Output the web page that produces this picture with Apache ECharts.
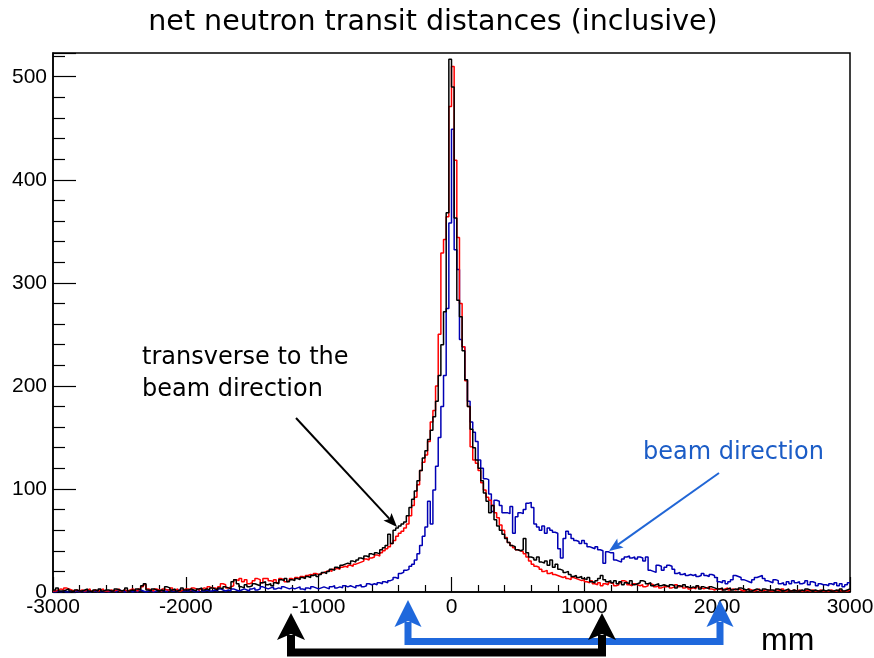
<!DOCTYPE html>
<html><head><meta charset="utf-8">
<script src="https://cdn.jsdelivr.net/npm/echarts@6/dist/echarts.min.js"></script>
<style>html,body{margin:0;padding:0;background:#fff}#c{width:874px;height:658px}</style>
</head><body><div id="c"></div>
<script>
// histogram binning (mm)
const BIN_START = -3000;
const BIN_WIDTH = 20;

// transverse direction (black)
const transverseBlack = [
2,4,1,1,2,3,1,0,2,1, 1,2,3,1,0,2,1,3,1,2, 2,1,1,3,2,1,2,4,1,2, 1,3,2,6,8,2,1,3,2,1,
2,1,5,4,2,3,1,2,4,2, 2,3,2,1,3,4,2,3,2,4, 3,2,4,3,5,4,3,10,12,8, 5,4,7,5,6,8,7,6,9,10,
7,8,6,9,8,12,11,13,10,12, 11,13,12,14,13,15,14,16,17,15, 17,19,18,20,22,21,24,23,26,27,
28,27,30,29,31,33,32,35,34,37, 36,38,37,41,43,45,56,47,60,62, 64,66,68,74,82,90,98,108,118,130,
137,148,157,170,185,210,240,272,368,517, 490,363,283,267,234,206,180,158,140,128,
120,108,96,88,77,84,70,64,60,56, 52,48,45,44,41,40,41,52,38,34, 33,31,34,29,28,30,26,31,24,27,
22,21,19,20,17,15,16,14,15,13, 12,14,10,9,11,13,16,12,10,11, 9,11,8,10,7,9,8,11,7,8,
9,11,10,8,9,6,7,8,6,7, 6,5,7,6,4,6,5,7,5,4, 5,4,6,3,5,4,3,5,4,3, 3,4,2,3,4,2,3,2,4,3,
2,3,1,2,3,2,1,3,2,2, 2,1,3,2,1,2,3,1,2,1, 1,2,1,3,2,1,2,1,1,2, 1,2,1,1,2,1,3,1,2,3
];
// transverse direction (red)
const transverseRed = [
1,2,3,2,4,3,2,1,2,1, 2,1,2,3,1,2,1,2,3,1, 1,2,1,2,3,1,2,1,2,3, 2,1,3,5,7,3,2,1,3,2,
1,3,2,2,4,2,3,1,2,3, 3,2,4,3,2,3,4,3,5,4, 4,3,5,8,7,4,5,6,12,11, 13,10,12,8,9,11,13,12,9,13,
13,11,10,12,9,13,12,10,11,13, 12,14,13,15,14,16,17,16,18,17, 18,19,20,21,20,22,23,22,24,25,
24,26,25,27,28,29,30,32,31,33, 34,36,35,38,40,42,44,47,50,54, 57,59,62,66,74,84,92,104,118,126,
133,146,165,176,200,250,329,342,364,471, 510,419,344,280,238,205,180,141,128,125,
118,106,99,92,89,84,77,72,65,60, 53,48,45,43,41,40,39,37,34,30, 27,25,24,22,20,21,18,19,17,16,
15,14,15,13,12,14,13,12,11,12, 10,9,11,8,7,9,6,8,7,9, 8,6,7,9,11,10,7,6,8,7,
6,7,5,6,8,7,5,6,4,5, 5,6,4,5,7,5,6,4,5,3, 4,3,5,4,3,4,5,3,2,3, 3,2,3,4,2,3,2,3,2,1,
2,3,2,1,2,3,1,2,2,1, 1,2,2,1,3,1,2,1,2,1, 2,1,1,2,1,2,1,1,2,1, 1,1,2,1,1,2,1,1,1,2
];
// beam direction (blue)
const beamBlue = [
0,1,0,1,0,0,1,0,1,0, 1,0,1,0,1,1,0,2,0,1, 0,1,1,0,2,1,0,1,1,0, 1,0,2,1,0,1,1,0,1,2,
1,1,0,2,1,1,0,2,1,1, 1,2,1,0,1,3,1,2,1,1, 2,1,3,2,1,2,1,3,2,1, 2,3,2,1,3,4,2,3,5,4,
3,4,5,3,4,3,5,4,3,4, 3,4,5,3,2,4,3,5,4,3, 4,5,4,3,5,6,4,5,4,6,
5,6,5,4,6,7,5,6,8,7, 8,7,9,8,10,9,11,12,14,13, 18,19,21,22,25,27,31,37,45,54,
63,88,66,99,122,150,180,210,275,358, 449,332,313,245,238,206,185,165,155,146,
128,120,110,109,95,78,89,88,84,77, 77,76,83,57,73,77,76,80,86,87, 82,66,63,60,64,57,62,60,58,57,
42,33,52,59,56,52,50,49,47,50, 47,44,43,42,44,41,40,28,39,38, 38,31,30,29,32,34,35,33,34,32,
34,33,30,34,21,20,19,26,25,21, 24,26,25,22,18,19,17,18,16,17, 16,17,15,16,18,16,15,17,16,14,
10,9,11,8,10,12,16,15,14,12, 11,10,9,12,14,15,16,13,11,10, 9,12,11,8,9,7,10,8,11,9,
10,8,9,11,7,10,9,6,8,7, 7,6,8,7,9,6,8,5,7,9
];

const X_MIN = -3000, X_MAX = 3000, X_STEP = 1000;
const Y_MIN = 0, Y_MAX = 523, Y_STEP = 100;

function toSteps(vals) {
  const pts = vals.map((v, i) => [BIN_START + i * BIN_WIDTH, v]);
  pts.push([BIN_START + vals.length * BIN_WIDTH, vals[vals.length - 1]]);
  return pts;
}

function arrow(x1, y1, x2, y2, L, W, notch, color, lw) {
  const dx = x2 - x1, dy = y2 - y1, len = Math.hypot(dx, dy);
  const ux = dx / len, uy = dy / len, px = -uy, py = ux;
  const bx = x2 - ux * L, by = y2 - uy * L;
  const nx = x2 - ux * (L - notch), ny = y2 - uy * (L - notch);
  return [
    { type: 'line', shape: { x1: x1, y1: y1, x2: nx, y2: ny }, style: { stroke: color, lineWidth: lw }, z: 100 },
    { type: 'polygon', shape: { points: [[x2, y2], [bx + px * W / 2, by + py * W / 2], [nx, ny], [bx - px * W / 2, by - py * W / 2]] }, style: { fill: color }, z: 100 }
  ];
}

const chart = echarts.init(document.getElementById('c'), null, { renderer: 'canvas' });
const lineW = 1.5;
const blueBr = '#1f68dc';
const graphics = [
  { type: 'text', x: 433, y: 23, style: { text: 'net neutron transit distances (inclusive)', font: '28.5px "DejaVu Sans"', fill: '#000', align: 'center', verticalAlign: 'middle' }, z: 100 },
  { type: 'text', x: 142, y: 358, style: { text: 'transverse to the', font: '24px "DejaVu Sans"', fill: '#000', align: 'left', verticalAlign: 'middle' }, z: 100 },
  { type: 'text', x: 142, y: 390, style: { text: 'beam direction', font: '24px "DejaVu Sans"', fill: '#000', align: 'left', verticalAlign: 'middle' }, z: 100 },
  { type: 'text', x: 643, y: 453, style: { text: 'beam direction', font: '24px "DejaVu Sans"', fill: '#1b5cc6', align: 'left', verticalAlign: 'middle' }, z: 100 },
  { type: 'text', x: 761, y: 641, style: { text: 'mm', font: '32px "Liberation Sans"', fill: '#000', align: 'left', verticalAlign: 'middle' }, z: 100 },
  { type: 'polyline', shape: { points: [[408, 622], [408, 641.5], [720, 641.5], [720, 622]] }, style: { stroke: blueBr, lineWidth: 7, fill: null, lineJoin: 'miter' }, z: 100 },
  { type: 'polyline', shape: { points: [[291, 635], [291, 652.5], [602, 652.5], [602, 635]] }, style: { stroke: '#000', lineWidth: 8, fill: null, lineJoin: 'miter' }, z: 101 }
];
graphics.push(...arrow(296, 418, 397, 527, 14, 11, 3, '#000', 2));
graphics.push(...arrow(719, 473, 609, 551, 14, 11, 3, '#2166d6', 2));
graphics.push(...arrow(408, 640, 408, 600, 27, 27, 6, blueBr, 0).slice(1));
graphics.push(...arrow(720, 640, 720, 600, 27, 27, 6, blueBr, 0).slice(1));
const bh1 = arrow(291, 650, 291, 613, 27, 28, 6, '#000', 0).slice(1);
const bh2 = arrow(602, 650, 602, 613, 27, 28, 6, '#000', 0).slice(1);
bh1[0].z = 101; bh2[0].z = 101;
graphics.push(...bh1, ...bh2);

chart.setOption({
  animation: false,
  backgroundColor: '#fff',
  grid: { left: 53, right: 24, top: 53, bottom: 66, show: true, borderColor: '#000', borderWidth: 1.5, backgroundColor: 'transparent', containLabel: false, outerBoundsMode: 'none' },
  xAxis: {
    type: 'value', min: X_MIN, max: X_MAX, interval: X_STEP,
    axisLine: { onZero: false, lineStyle: { color: '#000', width: 1.5 } },
    axisTick: { inside: true, length: 15, lineStyle: { color: '#000', width: 1.2 } },
    minorTick: { show: true, splitNumber: 5, length: 7, lineStyle: { color: '#000', width: 1.2 } },
    axisLabel: { color: '#000', fontFamily: 'Liberation Sans', fontSize: 21, margin: 5, formatter: v => String(v) },
    splitLine: { show: false }
  },
  yAxis: {
    type: 'value', min: Y_MIN, max: Y_MAX, interval: Y_STEP,
    axisLine: { show: true, onZero: false, lineStyle: { color: '#000', width: 1.5 } },
    axisTick: { inside: true, length: 23, lineStyle: { color: '#000', width: 1.2 } },
    minorTick: { show: true, splitNumber: 5, length: 12, lineStyle: { color: '#000', width: 1.2 } },
    axisLabel: { color: '#000', fontFamily: 'Liberation Sans', fontSize: 21, margin: 6, showMaxLabel: false, formatter: v => String(v) },
    splitLine: { show: false }
  },
  series: [
    { type: 'line', step: 'end', data: toSteps(beamBlue), symbol: 'none', lineStyle: { color: '#0000b4', width: lineW }, z: 2 },
    { type: 'line', step: 'end', data: toSteps(transverseRed), symbol: 'none', lineStyle: { color: '#ff0000', width: lineW }, z: 3 },
    { type: 'line', step: 'end', data: toSteps(transverseBlack), symbol: 'none', lineStyle: { color: '#000000', width: lineW }, z: 4 }
  ],
  graphic: graphics
});
</script></body></html>
